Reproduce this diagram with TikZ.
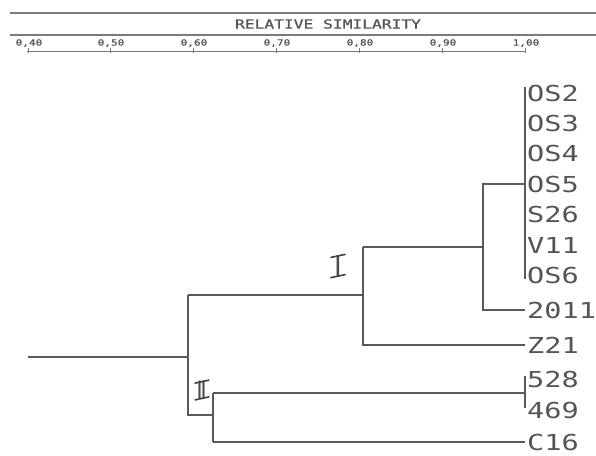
\documentclass[tikz,border=0pt]{standalone}
\usepackage{fontspec}
\newfontfamily\plotfont{DejaVu Sans Mono}
\newfontfamily\plotboldfont[FakeBold=0.8]{DejaVu Sans Mono}
\usetikzlibrary{calc}
\definecolor{ink}{HTML}{5A5A5A}
\definecolor{txt}{HTML}{555555}
\tikzset{
  branch/.style={draw=ink, line width=1.3pt},
  rule/.style={draw=ink!80, line width=1.2pt},
  leaf/.style={anchor=west, inner xsep=2pt, inner ysep=0pt, text=txt, font=\plotfont\fontsize{22}{22}\selectfont},
  ticklab/.style={text=txt, inner sep=0pt, font=\plotboldfont\fontsize{8.5}{8.5}\selectfont},
  titlelab/.style={text=txt, inner sep=0pt, font=\plotboldfont\fontsize{12.5}{12.5}\selectfont},
  roman/.style={text=black!70, inner xsep=2pt, inner ysep=0pt, font=\sffamily\fontsize{30}{30}\selectfont},
  bar/.style={draw=black!75, line width=1.6pt, line cap=round}
}
\begin{document}
\begin{tikzpicture}[x=1pt,y=-1pt]
\path[use as bounding box, fill=white] (0,0) rectangle (596,455);
% header
\draw[rule] (10,13) -- (596,13);
\draw[rule] (10,35) -- (596,35);
\node[titlelab] (title) at (328,24) {\scalebox{1.3}[1]{RELATIVE SIMILARITY}};
\draw[rule, line width=1pt] (27,51) -- (526,51);
\foreach \x in {28,110,193,276,359,442,525}{
  \draw[rule, line width=0.8pt] (\x,48) -- (\x,53);
}
\node[ticklab] (t40) at (29,43) {\scalebox{1.3}[1]{0,40}};
\node[ticklab] (t50) at (111,43) {\scalebox{1.3}[1]{0,50}};
\node[ticklab] (t60) at (194,43) {\scalebox{1.3}[1]{0,60}};
\node[ticklab] (t70) at (277,43) {\scalebox{1.3}[1]{0,70}};
\node[ticklab] (t80) at (360,43) {\scalebox{1.3}[1]{0,80}};
\node[ticklab] (t90) at (443,43) {\scalebox{1.3}[1]{0,90}};
\node[ticklab] (t100) at (526,43) {\scalebox{1.3}[1]{1,00}};
% leaves
\node[leaf] (os2) at (525,93) {\scalebox{1.3}[1]{OS2}};
\node[leaf] (os3) at (525,123) {\scalebox{1.3}[1]{OS3}};
\node[leaf] (os4) at (525,153) {\scalebox{1.3}[1]{OS4}};
\node[leaf] (os5) at (525,184) {\scalebox{1.3}[1]{OS5}};
\node[leaf] (s26) at (525,214) {\scalebox{1.3}[1]{S26}};
\node[leaf] (v11) at (525,245) {\scalebox{1.3}[1]{V11}};
\node[leaf] (os6) at (525,275) {\scalebox{1.3}[1]{OS6}};
\node[leaf] (l2011) at (525,310) {\scalebox{1.3}[1]{2011}};
\node[leaf] (z21) at (525,345) {\scalebox{1.3}[1]{Z21}};
\node[leaf] (l528) at (525,379) {\scalebox{1.3}[1]{528}};
\node[leaf] (l469) at (525,410) {\scalebox{1.3}[1]{469}};
\node[leaf] (c16) at (525,442) {\scalebox{1.3}[1]{C16}};
% internal points
\coordinate (n1) at (483,247);
\coordinate (n2) at (363,295);
\coordinate (n3) at (188,357);
\coordinate (n4) at (213,415);
\coordinate (root) at (28,357);
\coordinate (j528) at ($(l528.west)!0.45!(l469.west)$);
% clusters
\draw[branch] ($(os2.west)+(0,-6)$) -- ($(os6.west)+(0,4)$);
\draw[branch] ($(l528.west)+(0,-3)$) -- ($(l469.west)+(0,-2)$);
\draw[branch] (os5.west) -| (n1) |- (l2011.west);
\draw[branch] (n2 |- n1) -- (n1);
\draw[branch] (n2 |- n1) -- (n2) |- (z21.west);
\draw[branch] (n3 |- n2) -- (n2);
\draw[branch] (n3 |- n2) -- (n3 |- n4) -- (n4);
\draw[branch] (root) -- (n3);
\draw[branch] (n4 |- j528) -- (n4 |- c16);
\draw[branch] (n4 |- j528) -- (j528);
\draw[branch] (n4 |- c16) -- (c16.west);
% handwritten roman numerals
\node[roman] (r1) at (338,266) {I};
\draw[bar] ($(r1.north west)+(-1,2)$) -- ($(r1.north east)+(1,-1)$);
\draw[bar] ($(r1.south west)+(-1,1)$) -- ($(r1.south east)+(1,-2)$);
\node[roman, font=\sffamily\fontsize{25}{25}\selectfont, inner xsep=1pt] (r2) at (202,390) {\kern-1ptI\kern-2.5ptI};
\draw[bar] ($(r2.north west)+(-1,2)$) -- ($(r2.north east)+(1,-1)$);
\draw[bar] ($(r2.south west)+(-1,1)$) -- ($(r2.south east)+(1,-2)$);
\end{tikzpicture}
\end{document}
